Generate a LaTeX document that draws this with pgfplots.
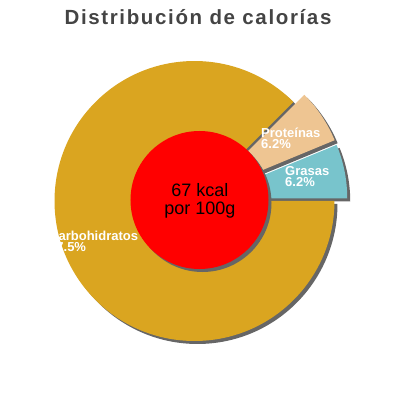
\documentclass[border=0pt]{standalone}
\usepackage{pgfplots}
\usepackage{pgfplotstable}
\pgfplotsset{compat=1.18}
\usepackage{fontspec}
\setmainfont{Liberation Sans}
\newfontfamily\titlefont[LetterSpace=8]{Liberation Sans}

\definecolor{carbo}{HTML}{DAA520}
\definecolor{proteinas}{HTML}{EEC592}
\definecolor{grasas}{HTML}{78C4CC}
\definecolor{shadowgray}{HTML}{666666}
\definecolor{titlegray}{HTML}{444444}

% slices counter-clockwise from 3 o'clock; label positions in px (y up),
% ly = baseline of the percentage line
\pgfplotstableread{
name value shown explode clr lx ly
Grasas 6.25 6.2 13 grasas 285 213.3
Proteínas 6.25 6.2 13 proteinas 261 251.7
Carbohidratos 87.5 87.5 0 carbo 49 148.3
}\piedata

% cumulative start / end angles
\def\acc{0}
\pgfplotstableforeachcolumnelement{value}\of\piedata\as\val{%
  \pgfmathsetmacro\a{\acc*3.6}%
  \pgfmathsetmacro\b{(\acc+\val)*3.6}%
  \expandafter\xdef\csname sa\pgfplotstablerow\endcsname{\a}%
  \expandafter\xdef\csname ea\pgfplotstablerow\endcsname{\b}%
  \pgfmathsetmacro\acc{\acc+\val}\xdef\acc{\acc}%
}

\def\pcx{194.5}\def\pcy{199}\def\prad{140bp}

% #1 row, #2 = 1 for the shadow
\newcommand\slice[2]{%
  \pgfplotstablegetelem{#1}{explode}\of\piedata\let\ex\pgfplotsretval
  \pgfplotstablegetelem{#1}{clr}\of\piedata\let\clr\pgfplotsretval
  \edef\sa{\csname sa#1\endcsname}\edef\ea{\csname ea#1\endcsname}%
  \def\dx{0}\def\dy{0}%
  \ifnum#2=1 \def\clr{shadowgray}\def\dx{3}\def\dy{-3}\fi
  \pgfmathsetmacro\midang{(\sa+\ea)/2}%
  \pgfmathsetmacro\cx{\pcx+\ex*cos(\midang)+\dx}%
  \pgfmathsetmacro\cy{\pcy+\ex*sin(\midang)+\dy}%
  \edef\tmp{\noexpand\fill[\clr] (axis cs:\cx,\cy) -- ++(\sa:\prad)
    arc[start angle=\sa, end angle=\ea, radius=\prad] -- cycle;}%
  \tmp
}

\newcommand\slicelabel[1]{%
  \pgfplotstablegetelem{#1}{name}\of\piedata\let\nm\pgfplotsretval
  \pgfplotstablegetelem{#1}{shown}\of\piedata\let\sh\pgfplotsretval
  \pgfplotstablegetelem{#1}{lx}\of\piedata\let\lx\pgfplotsretval
  \pgfplotstablegetelem{#1}{ly}\of\piedata\let\ly\pgfplotsretval
  \edef\tmp{\noexpand\node[lbl] at (axis cs:\lx,\ly)
    {\nm\noexpand\\\sh\noexpand\%};}%
  \tmp
}

\begin{document}
\begin{tikzpicture}[
  lbl/.style={anchor=base west, inner sep=0pt, text=white, align=left,
    font=\bfseries\fontsize{13bp}{11bp}\selectfont},
]
\begin{axis}[
  scale only axis, width=400bp, height=400bp,
  xmin=0, xmax=400, ymin=0, ymax=400,
  hide axis, clip=false,
]
\path (axis cs:0,0) rectangle (axis cs:400,400);

\pgfplotsinvokeforeach{0,1,2}{\slice{#1}{1}}
\pgfplotsinvokeforeach{0,1,2}{\slice{#1}{0}}

% centre disc
\fill[shadowgray] (axis cs:202.5,197) circle[radius=69bp];
\fill[red] (axis cs:199.5,200) circle[radius=69bp];
\node[anchor=base, inner sep=0pt, align=center,
  font=\fontsize{18bp}{18bp}\selectfont]
  at (axis cs:200,186) {67 kcal\\por 100g};

\pgfplotsinvokeforeach{0,1,2}{\slicelabel{#1}}

\node[anchor=base, inner sep=0pt, text=titlegray,
  font=\titlefont\bfseries\fontsize{20.5bp}{22bp}\selectfont]
  at (axis cs:198,375.7) {Distribución de calorías};
\end{axis}
\end{tikzpicture}
\end{document}
